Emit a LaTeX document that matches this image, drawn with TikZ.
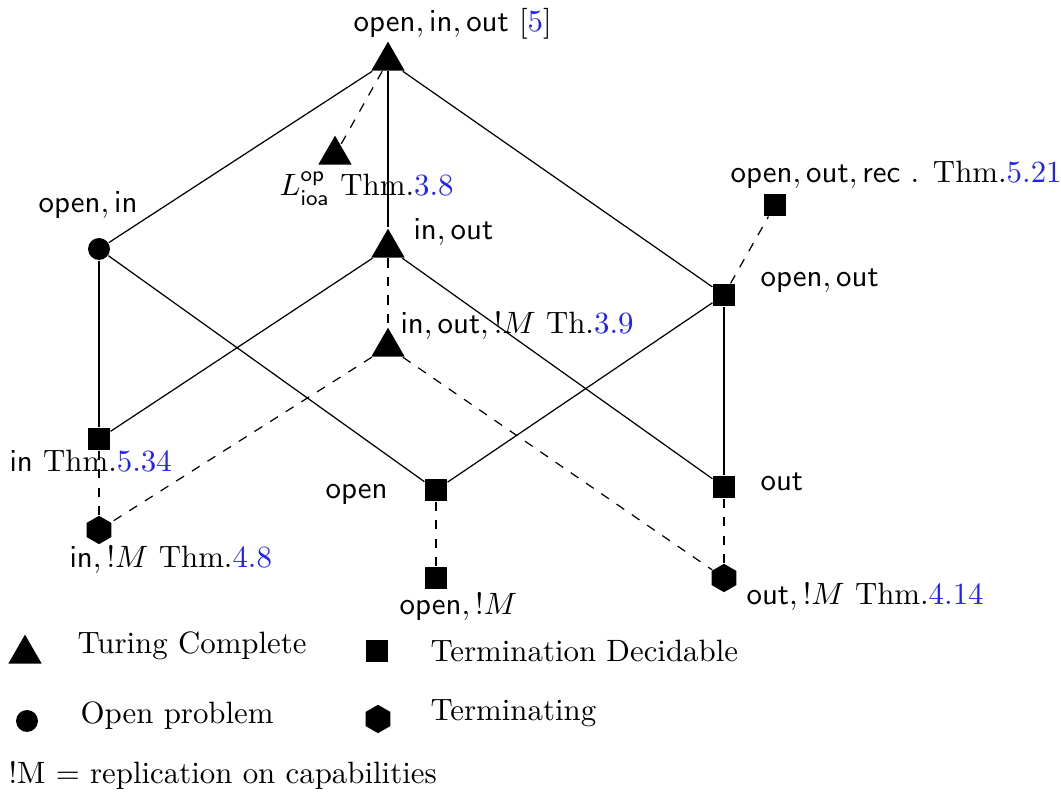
\documentclass[tikz,border=0pt]{standalone}
\usetikzlibrary{shapes.geometric}
\definecolor{lnk}{rgb}{0.12,0.12,1}
\newcommand{\tnum}[1]{\textcolor{lnk}{#1}}
\begin{document}
\begin{tikzpicture}[x=0.324pt,y=-0.324pt,
 tri/.style={regular polygon, regular polygon sides=3, fill=black, inner sep=0pt, minimum size=12.5pt},
 sq/.style={rectangle, fill=black, inner sep=0pt, minimum size=7.1pt},
 dot/.style={circle, fill=black, inner sep=0pt, minimum size=7.1pt},
 hexa/.style={regular polygon, regular polygon sides=6, regular polygon rotate=30, fill=black, inner sep=0pt, minimum size=9.2pt},
 lab/.style={anchor=base west, inner sep=0pt},
 sol/.style={line width=0.4pt},
 dsh/.style={line width=0.4pt, dashed}]
\useasboundingbox (0,0) rectangle (1061,796);
% nodes
\node[tri] (top) at (388,61) {};
\node[tri] (lop) at (335,155) {};
\node[tri] (inout) at (388,248) {};
\node[tri] (inoutM) at (388,347) {};
\node[dot] (openin) at (99,249) {};
\node[sq] (openout) at (724,295) {};
\node[sq] (rec) at (775,205) {};
\node[sq] (in) at (99,439) {};
\node[sq] (open) at (436,490) {};
\node[sq] (out) at (724,487) {};
\node[hexa] (inM) at (99,530) {};
\node[sq] (openM) at (436,578) {};
\node[hexa] (outM) at (724,578) {};
% labels
\node[lab] (ltop) at (353,32) {$\mathsf{open},\mathsf{in},\mathsf{out}$ [\tnum{5}]};
\node[lab] (llop) at (279,196) {$L^{\mathsf{op}}_{\mathsf{ioa}}$ Thm.\tnum{3.8}};
\node[lab] (linout) at (413,240) {$\mathsf{in},\mathsf{out}$};
\node[lab] (lopenin) at (38,213) {$\mathsf{open},\mathsf{in}$};
\node[lab] (lrec) at (730,183) {$\mathsf{open},\mathsf{out},\mathsf{rec}$ . Thm.\tnum{5.21}};
\node[lab] (lopenout) at (760,287) {$\mathsf{open},\mathsf{out}$};
\node[lab] (linoutM) at (400,334) {$\mathsf{in},\mathsf{out},!M$ Th.\tnum{3.9}};
\node[lab] (lin) at (9,472) {$\mathsf{in}$ Thm.\tnum{5.34}};
\node[lab] (linM) at (69,568) {$\mathsf{in},!M$ Thm.\tnum{4.8}};
\node[lab] (lopen) at (325,499) {$\mathsf{open}$};
\node[lab] (lout) at (760,491) {$\mathsf{out}$};
\node[lab] (lopenM) at (399,615) {$\mathsf{open},!M$};
\node[lab] (loutM) at (746,605) {$\mathsf{out},!M$ Thm.\tnum{4.14}};
% edges
\draw[sol] (top) -- (openin);
\draw[sol] (top) -- (openout);
\draw[sol] (top) -- (inout);
\draw[dsh] (top) -- (lop);
\draw[dsh] (openout) -- (rec);
\draw[sol] (openin) -- (in);
\draw[sol] (openin) -- (open);
\draw[sol] (inout) -- (in);
\draw[sol] (inout) -- (out);
\draw[dsh] (inout) -- (inoutM);
\draw[sol] (openout) -- (open);
\draw[sol] (openout) -- (out);
\draw[dsh] (in) -- (inM);
\draw[dsh] (inoutM) -- (inM);
\draw[dsh] (inoutM) -- (outM);
\draw[dsh] (open) -- (openM);
\draw[dsh] (out) -- (outM);
% legend
\node[tri] (ktri) at (25,654) {};
\node[lab] (ktrit) at (77,654) {Turing Complete};
\node[sq] (ksq) at (377,651) {};
\node[lab] (ksqt) at (430,662) {Termination Decidable};
\node[dot] (kdot) at (27,721) {};
\node[lab] (kdott) at (80,724) {Open problem};
\node[hexa] (khex) at (378,719) {};
\node[lab] (khext) at (430,721) {Terminating};
\node[lab] (knote) at (8,784) {!M = replication on capabilities};
\end{tikzpicture}
\end{document}
